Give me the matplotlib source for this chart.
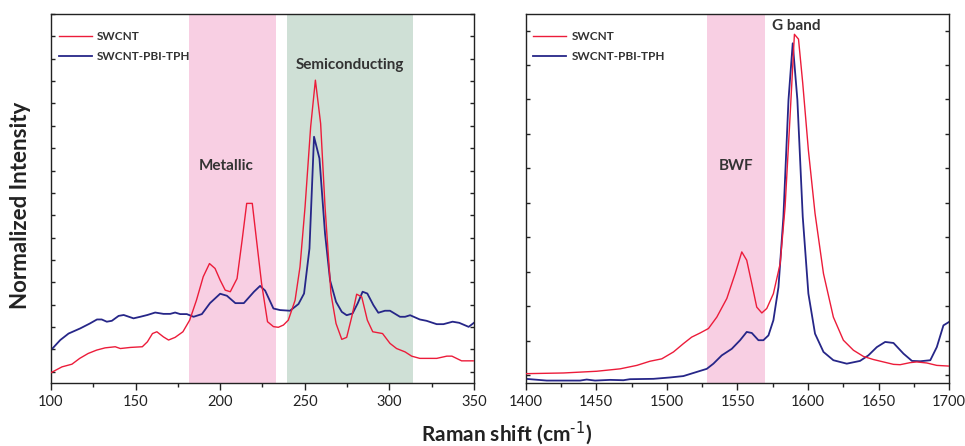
import matplotlib
matplotlib.use("Agg")
import matplotlib.pyplot as plt
from matplotlib.ticker import MultipleLocator

plt.rcParams['font.family'] = ['Lato', 'DejaVu Sans']

# ---- Radial breathing mode region (100-350 cm^-1) ----
rbm_shift = [100, 106.5, 112.4, 117, 122, 127, 132, 138, 141, 147, 154, 157, 160, 162.6,
             166.5, 169.5, 173.4, 178, 182, 186, 190, 193.7, 197, 200, 203, 206, 210, 213,
             215.7, 219, 221.5, 224.5, 228, 231.5, 234.4, 237.4, 240.3, 244.3, 247.2, 250.2,
             253.5, 256.3, 259.4, 262, 265.5, 268.5, 271.9, 274.8, 277.8, 280.7, 283.7, 287,
             290.2, 296, 300.4, 304.3, 309.3, 313.2, 318, 323, 328, 334, 337, 342.7, 349.6]
rbm_swcnt = [-0.04, 0.22, 0.34, 0.60, 0.82, 0.97, 1.07, 1.12, 1.04, 1.09, 1.12, 1.34, 1.71, 1.79,
             1.56, 1.42, 1.54, 1.79, 2.31, 3.20, 4.25, 4.84, 4.62, 4.10, 3.65, 3.58, 4.17, 5.89,
             7.53, 7.53, 5.89, 3.95, 2.24, 2.02, 1.99, 2.09, 2.31, 3.20, 4.69, 7.38,
             10.95, 13.04, 11.10, 7.38, 3.50, 2.16, 1.45, 1.54, 2.46, 3.47, 3.35, 2.31,
             1.79, 1.71, 1.27, 1.04, 0.89, 0.70, 0.60, 0.60, 0.60, 0.70, 0.70, 0.49, 0.49]

rbm_shift_pbi = [100, 105.5, 110.4, 117.3, 123, 127.2, 130, 133, 136, 140, 143, 148.8, 152.8, 157,
                 161.6, 166.5, 170.5, 173.4, 176.4, 180.3, 184.3, 189.2, 194, 200, 204, 209, 214,
                 220, 223.6, 226.6, 231.5, 235.4, 241.3, 246.3, 249.6, 252.8, 255.5, 258.7, 262,
                 265, 268.5, 271.9, 274.8, 278.3, 281.3, 284.2, 287, 290.6, 293.5, 297.4, 300.4,
                 306.3, 309.3, 312.3, 318, 322, 328, 332, 337.4, 341.3, 346.9, 350]
rbm_pbi = [0.97, 1.42, 1.71, 1.94, 2.16, 2.34, 2.34, 2.24, 2.28, 2.50, 2.54, 2.39, 2.46, 2.54,
           2.65, 2.59, 2.59, 2.65, 2.58, 2.58, 2.46, 2.58, 3.07, 3.49, 3.40, 3.07, 3.07,
           3.58, 3.84, 3.63, 2.83, 2.76, 2.73, 3.03, 3.50, 5.51, 10.51, 9.54, 6.18,
           4.08, 3.13, 2.68, 2.53, 2.61, 3.06, 3.58, 3.50, 2.98, 2.64, 2.73, 2.73,
           2.46, 2.46, 2.53, 2.34, 2.28, 2.13, 2.13, 2.24, 2.19, 2.01, 2.19]

# ---- G band region (1400-1700 cm^-1) ----
g_shift = [1400, 1426.7, 1450.3, 1466.9, 1478.7, 1488, 1496.4, 1504.7, 1511.7, 1517.6, 1523.6,
           1529.5, 1535.4, 1542.5, 1548.4, 1553.1, 1556.6, 1560.2, 1563.7, 1567.3, 1570.8,
           1575.5, 1580.3, 1583.8, 1587.3, 1590.4, 1593.3, 1596.3, 1600.3, 1605, 1611, 1618,
           1625.1, 1632.2, 1639.3, 1646.4, 1653.5, 1660.6, 1665.3, 1672.4, 1677.1, 1684.2,
           1691.3, 1700]
g_swcnt = [0.05, 0.07, 0.12, 0.19, 0.29, 0.41, 0.48, 0.68, 0.92, 1.11, 1.23,
           1.36, 1.69, 2.23, 2.95, 3.58, 3.34, 2.66, 1.98, 1.81, 1.94,
           2.37, 3.24, 4.89, 7.50, 9.89, 9.75, 8.47, 6.53, 4.70, 2.95, 1.69,
           1.02, 0.73, 0.55, 0.46, 0.39, 0.32, 0.31, 0.37, 0.39, 0.36,
           0.29, 0.27]

g_shift_pbi = [1400, 1414.9, 1438.5, 1443.2, 1449.1, 1459.8, 1469.2, 1473.9, 1490.5, 1502.3,
               1511.7, 1518.8, 1528.3, 1533, 1538.9, 1546, 1551.9, 1556.6, 1560.2, 1564.9,
               1568.4, 1572, 1575.5, 1579.1, 1582.6, 1586.2, 1589.2, 1592.5, 1596.3, 1600.3,
               1605, 1611, 1618, 1627.5, 1636.9, 1642.8, 1648.8, 1654.7, 1660.6, 1667.7,
               1673.7, 1679.6, 1686.7, 1691.3, 1696, 1700]
g_pbi = [-0.10, -0.15, -0.15, -0.12, -0.15, -0.13, -0.14, -0.11, -0.10, -0.06,
         -0.02, 0.07, 0.19, 0.34, 0.58, 0.77, 1.02, 1.26, 1.23, 1.02,
         1.02, 1.16, 1.60, 2.56, 4.60, 7.99, 9.63, 7.99, 4.60, 2.37,
         1.21, 0.68, 0.44, 0.34, 0.42, 0.58, 0.82, 0.97, 0.94, 0.63,
         0.42, 0.41, 0.44, 0.82, 1.45, 1.55]

series_names = ['SWCNT', 'SWCNT-PBI-TPH']
red = '#ec1c3a'
navy = '#262688'
pink = '#f8cfe3'
green = '#cfe0d6'
label_color = '#333333'

fig = plt.figure(figsize=(9.65, 4.46), dpi=100)
ax1 = fig.add_axes([0.0528, 0.1413, 0.4383, 0.8274])
ax2 = fig.add_axes([0.5448, 0.1413, 0.4387, 0.8274])

# left panel
ax1.axvspan(181.7, 233.1, color=pink, lw=0, zorder=0)
ax1.axvspan(239.4, 313.8, color=green, lw=0, zorder=0)
ax1.plot(rbm_shift, rbm_swcnt, color=red, lw=1.0, label=series_names[0], zorder=3)
ax1.plot(rbm_shift_pbi, rbm_pbi, color=navy, lw=1.3, label=series_names[1], zorder=2)
ax1.set_xlim(100, 350)
ax1.set_ylim(-0.5, 16.0)
ax1.xaxis.set_major_locator(MultipleLocator(50))
ax1.xaxis.set_minor_locator(MultipleLocator(25))
ax1.yaxis.set_major_locator(MultipleLocator(1))
ax1.text(203.3, 9.2, 'Metallic', ha='center', va='center', fontsize=11,
         fontweight='bold', color=label_color)
ax1.text(276.4, 13.7, 'Semiconducting', ha='center', va='center', fontsize=11,
         fontweight='bold', color=label_color)

# right panel
ax2.axvspan(1528.3, 1569.6, color=pink, lw=0, zorder=0)
ax2.plot(g_shift, g_swcnt, color=red, lw=1.0, label=series_names[0], zorder=3)
ax2.plot(g_shift_pbi, g_pbi, color=navy, lw=1.3, label=series_names[1], zorder=2)
ax2.set_xlim(1400, 1700)
ax2.set_ylim(-0.22, 10.48)
ax2.xaxis.set_major_locator(MultipleLocator(50))
ax2.xaxis.set_minor_locator(MultipleLocator(25))
ax2.yaxis.set_major_locator(MultipleLocator(1))
ax2.text(1548.8, 6.08, 'BWF', ha='center', va='center', fontsize=11,
         fontweight='bold', color=label_color)
ax2.text(1592, 10.14, 'G band', ha='center', va='center', fontsize=11,
         fontweight='bold', color=label_color)

for ax in (ax1, ax2):
    for s in ax.spines.values():
        s.set_linewidth(1.0)
        s.set_color('#222222')
    ax.tick_params(axis='x', which='major', direction='out', length=5, width=1,
                   labelsize=10.5, pad=4, colors='#222222')
    ax.tick_params(axis='x', which='minor', direction='out', length=3, width=1,
                   colors='#222222')
    ax.tick_params(axis='y', which='major', direction='in', length=3, width=1,
                   left=True, right=True, labelleft=False, colors='#222222')
    leg = ax.legend(loc='upper left', bbox_to_anchor=(0.0, 0.975), frameon=False,
                    prop={'weight': 'bold', 'size': 8.5}, handlelength=2.8,
                    handletextpad=0.45, labelspacing=0.75, borderaxespad=0.25)
    for t in leg.get_texts():
        t.set_color(label_color)

fig.text(0.021, 0.54, 'Normalized Intensity', rotation=90, ha='center', va='center',
         fontsize=16, fontweight='bold', color='#222222')
fig.text(0.525, 0.03, r'Raman shift (cm$^{\text{-1}}$)', ha='center', va='center',
         fontsize=15, fontweight='bold', color='#222222')

fig.savefig('out.png', dpi=100)
